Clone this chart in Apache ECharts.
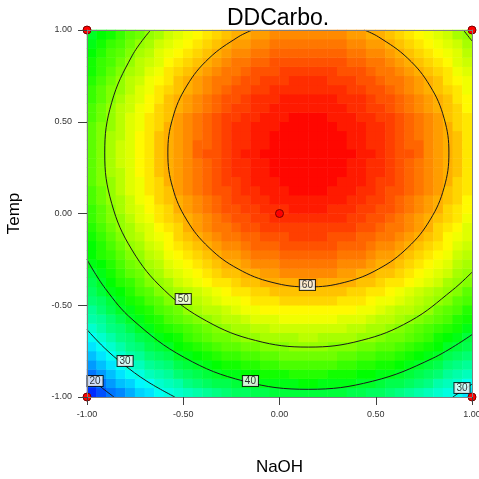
<!DOCTYPE html>
<html><head><meta charset="utf-8">
<script src="https://cdn.jsdelivr.net/npm/echarts@6/dist/echarts.min.js"></script>
<style>html,body{margin:0;padding:0;background:#fff}#c{width:479px;height:479px}</style>
</head><body><div id="c"></div>
<script>
const chartTitle = 'DDCarbo.';
const xAxisName = 'NaOH';
const yAxisName = 'Temp';
const axisTickValues = [-1, -0.5, 0, 0.5, 1];
const axisTickLabels = ['-1.00', '-0.50', '0.00', '0.50', '1.00'];
const cellCenters = [-0.975,-0.925,-0.875,-0.825,-0.775,-0.725,-0.675,-0.625,-0.575,-0.525,-0.475,-0.425,-0.375,-0.325,-0.275,-0.225,-0.175,-0.125,-0.075,-0.025,0.025,0.075,0.125,0.175,0.225,0.275,0.325,0.375,0.425,0.475,0.525,0.575,0.625,0.675,0.725,0.775,0.825,0.875,0.925,0.975];
// response values per cell, rows from Temp=-1 (bottom) to Temp=+1 (top), columns NaOH -1 -> +1
const carboRowsBottomToTop = [
[17,19,21,22,24,26,27,29,30,31,32,33,34,35,36,37,37,38,38,39,39,39,39,39,39,39,39,38,38,37,37,36,35,34,33,32,31,30,29,27],
[19,21,23,25,26,28,29,31,32,33,35,36,37,38,38,39,40,40,41,41,41,41,42,42,41,41,41,41,40,40,39,38,38,37,36,35,33,32,31,29],
[21,23,25,27,29,30,32,33,34,36,37,38,39,40,41,41,42,42,43,43,43,44,44,44,44,43,43,43,42,42,41,41,40,39,38,37,36,34,33,32],
[23,25,27,29,31,32,34,35,36,38,39,40,41,42,43,43,44,44,45,45,46,46,46,46,46,46,45,45,44,44,43,43,42,41,40,39,38,36,35,34],
[25,27,29,31,33,34,36,37,38,40,41,42,43,44,45,45,46,46,47,47,48,48,48,48,48,48,47,47,46,46,45,45,44,43,42,41,40,38,37,36],
[27,29,31,33,35,36,38,39,40,42,43,44,45,46,47,47,48,48,49,49,49,50,50,50,50,49,49,49,48,48,47,47,46,45,44,43,42,40,39,38],
[29,31,33,35,36,38,39,41,42,43,45,46,47,48,48,49,50,50,51,51,51,51,52,52,51,51,51,51,50,50,49,48,48,47,46,45,43,42,41,39],
[31,33,35,36,38,40,41,43,44,45,46,47,48,49,50,51,51,52,52,53,53,53,53,53,53,53,53,52,52,51,51,50,49,48,47,46,45,44,43,41],
[33,34,36,38,40,41,43,44,46,47,48,49,50,51,52,52,53,54,54,54,55,55,55,55,55,55,54,54,54,53,52,52,51,50,49,48,47,46,44,43],
[34,36,38,40,41,43,44,46,47,48,50,51,52,52,53,54,55,55,56,56,56,56,56,56,56,56,56,56,55,55,54,53,52,52,51,50,48,47,46,44],
[36,37,39,41,43,44,46,47,49,50,51,52,53,54,55,55,56,57,57,57,58,58,58,58,58,58,57,57,57,56,55,55,54,53,52,51,50,49,47,46],
[37,39,41,42,44,46,47,49,50,51,52,53,54,55,56,57,57,58,58,59,59,59,59,59,59,59,59,58,58,57,57,56,55,54,53,52,51,50,49,47],
[38,40,42,44,45,47,49,50,51,53,54,55,56,57,57,58,59,59,60,60,60,60,61,61,60,60,60,60,59,59,58,57,57,56,55,54,53,51,50,49],
[39,41,43,45,47,48,50,51,53,54,55,56,57,58,59,59,60,60,61,61,62,62,62,62,62,62,61,61,60,60,59,59,58,57,56,55,54,53,51,50],
[41,42,44,46,48,49,51,52,54,55,56,57,58,59,60,60,61,62,62,62,63,63,63,63,63,63,62,62,62,61,60,60,59,58,57,56,55,54,52,51],
[42,44,45,47,49,50,52,53,55,56,57,58,59,60,61,61,62,63,63,63,64,64,64,64,64,64,63,63,63,62,61,61,60,59,58,57,56,55,53,52],
[42,44,46,48,50,51,53,54,56,57,58,59,60,61,62,62,63,64,64,64,65,65,65,65,65,65,64,64,64,63,62,62,61,60,59,58,57,56,54,53],
[43,45,47,49,51,52,54,55,56,58,59,60,61,62,63,63,64,64,65,65,65,66,66,66,66,65,65,65,64,64,63,63,62,61,60,59,58,56,55,54],
[44,46,48,50,51,53,54,56,57,58,60,61,62,63,63,64,65,65,66,66,66,66,66,66,66,66,66,66,65,65,64,63,63,62,61,60,58,57,56,54],
[45,47,49,50,52,54,55,57,58,59,60,61,62,63,64,65,65,66,66,67,67,67,67,67,67,67,67,66,66,65,65,64,63,62,61,60,59,58,57,55],
[45,47,49,51,53,54,56,57,58,60,61,62,63,64,65,65,66,66,67,67,67,68,68,68,68,67,67,67,66,66,65,65,64,63,62,61,60,58,57,56],
[46,48,50,51,53,55,56,58,59,60,61,62,63,64,65,66,66,67,67,68,68,68,68,68,68,68,68,67,67,66,66,65,64,63,62,61,60,59,58,56],
[46,48,50,52,54,55,57,58,59,61,62,63,64,65,65,66,67,67,68,68,68,69,69,69,69,68,68,68,67,67,66,65,65,64,63,62,61,59,58,57],
[47,49,50,52,54,55,57,58,60,61,62,63,64,65,66,66,67,68,68,68,69,69,69,69,69,69,68,68,68,67,66,66,65,64,63,62,61,60,58,57],
[47,49,51,52,54,56,57,59,60,61,62,63,64,65,66,67,67,68,68,69,69,69,69,69,69,69,69,68,68,67,67,66,65,64,63,62,61,60,59,57],
[47,49,51,53,54,56,57,59,60,61,62,63,64,65,66,67,67,68,68,69,69,69,69,69,69,69,69,68,68,67,67,66,65,64,63,62,61,60,59,57],
[47,49,51,53,54,56,57,59,60,61,62,64,65,65,66,67,68,68,69,69,69,69,69,69,69,69,69,69,68,68,67,66,65,65,64,62,61,60,59,57],
[47,49,51,53,54,56,57,59,60,61,62,64,64,65,66,67,67,68,68,69,69,69,69,69,69,69,69,68,68,67,67,66,65,64,64,62,61,60,59,57],
[47,49,51,52,54,56,57,59,60,61,62,63,64,65,66,67,67,68,68,69,69,69,69,69,69,69,69,68,68,67,67,66,65,64,63,62,61,60,59,57],
[47,49,50,52,54,55,57,58,60,61,62,63,64,65,66,67,67,68,68,68,69,69,69,69,69,69,68,68,68,67,67,66,65,64,63,62,61,60,58,57],
[46,48,50,52,54,55,57,58,59,61,62,63,64,65,66,66,67,67,68,68,68,69,69,69,69,68,68,68,67,67,66,66,65,64,63,62,61,59,58,57],
[46,48,50,52,53,55,56,58,59,60,61,62,63,64,65,66,66,67,67,68,68,68,68,68,68,68,68,67,67,66,66,65,64,63,62,61,60,59,58,56],
[45,47,49,51,53,54,56,57,59,60,61,62,63,64,65,65,66,67,67,67,68,68,68,68,68,68,67,67,67,66,65,65,64,63,62,61,60,59,57,56],
[45,47,49,50,52,54,55,57,58,59,60,61,62,63,64,65,65,66,66,67,67,67,67,67,67,67,67,66,66,65,65,64,63,62,61,60,59,58,57,55],
[44,46,48,50,52,53,55,56,57,59,60,61,62,63,63,64,65,65,66,66,66,67,67,67,67,66,66,66,65,65,64,63,63,62,61,60,59,57,56,55],
[43,45,47,49,51,52,54,55,57,58,59,60,61,62,63,63,64,65,65,65,66,66,66,66,66,66,65,65,65,64,63,63,62,61,60,59,58,57,55,54],
[43,45,46,48,50,52,53,54,56,57,58,59,60,61,62,63,63,64,64,65,65,65,65,65,65,65,65,64,64,63,63,62,61,60,59,58,57,56,54,53],
[42,44,46,47,49,51,52,54,55,56,57,58,59,60,61,62,62,63,63,64,64,64,64,64,64,64,64,63,63,62,62,61,60,59,58,57,56,55,54,52],
[41,43,45,46,48,50,51,53,54,55,56,57,58,59,60,61,61,62,62,63,63,63,63,63,63,63,63,62,62,61,61,60,59,58,57,56,55,54,53,51],
[40,42,43,45,47,48,50,51,53,54,55,56,57,58,59,60,60,61,61,62,62,62,62,62,62,62,62,61,61,60,60,59,58,57,56,55,54,53,51,50]
];
const colorScaleMin = 14.7;
const colorScaleMax = 69.4;
// contour lines, [NaOH, Temp]
const contour60 = [[-0.14,1.0],[-0.215,0.962],[-0.366,0.846],[-0.482,0.695],[-0.555,0.519],[-0.58,0.33],[-0.555,0.141],[-0.482,-0.035],[-0.366,-0.186],[-0.215,-0.302],[-0.039,-0.375],[0.15,-0.40],[0.339,-0.375],[0.515,-0.302],[0.666,-0.186],[0.782,-0.035],[0.855,0.141],[0.88,0.33],[0.855,0.519],[0.782,0.695],[0.666,0.846],[0.515,0.962],[0.44,1.0]];
const contour50 = [[-0.669,1.0],[-0.766,0.859],[-0.872,0.604],[-0.908,0.33],[-0.872,0.056],[-0.766,-0.199],[-0.598,-0.418],[-0.379,-0.586],[-0.124,-0.692],[0.15,-0.728],[0.424,-0.692],[0.679,-0.586],[0.898,-0.418],[1.0,-0.32]];
const contour50Corner = [[0.955,1.0],[1.0,0.94]];
const contour40 = [[-1.0,-0.251],[-0.905,-0.409],[-0.761,-0.581],[-0.494,-0.785],[-0.183,-0.914],[0.15,-0.958],[0.483,-0.914],[0.794,-0.79],[1.0,-0.66]];
const contour30Left = [[-1.0,-0.633],[-0.911,-0.731],[-0.814,-0.819],[-0.689,-0.914],[-0.544,-1.0]];
const contour30Right = [[0.90,-1.0],[0.95,-0.965],[1.0,-0.93]];
const contour20 = [[-1.0,-0.881],[-0.932,-0.942],[-0.86,-1.0]];
const contourLabels = [[0.145,-0.39,'60'],[-0.50,-0.466,'50'],[-0.151,-0.913,'40'],[-0.802,-0.804,'30'],[0.948,-0.951,'30'],[-0.958,-0.913,'20']];
const designPoints = [[-1,-1],[1,-1],[-1,1],[1,1],[0,0]];

const heatData = [];
carboRowsBottomToTop.forEach((row, j) => row.forEach((v, i) => heatData.push([i, j, v])));

const FONT = 'Liberation Sans';
const chart = echarts.init(document.getElementById('c'), null, {renderer: 'canvas'});
const tickFmt = v => { const k = axisTickValues.indexOf(v); return k >= 0 ? axisTickLabels[k] : v.toFixed(2); };
const valueAxisBase = {
  type: 'value', min: -1, max: 1, interval: 0.5, z: 10,
  splitLine: {show: false},
  axisLine: {show: true, onZero: false, lineStyle: {color: '#808080', width: 1}},
};
const contourLine = (data) => ({
  type: 'line', xAxisIndex: 1, yAxisIndex: 1, data, showSymbol: false, symbol: 'none',
  smooth: 0.4, silent: true, z: 4, animation: false,
  lineStyle: {color: '#1a1a1a', width: 1}
});

chart.setOption({
  animation: false,
  backgroundColor: '#ffffff',
  title: {text: chartTitle, left: 222, top: 2, textStyle: {fontFamily: FONT, fontSize: 23, fontWeight: 'normal', color: '#000'}},
  grid: {left: 87, right: 7, top: 30, bottom: 82, containLabel: false, outerBoundsMode: 'none'},
  visualMap: {type: 'continuous', show: false, seriesIndex: 0, dimension: 2, min: colorScaleMin, max: colorScaleMax,
    inRange: {color: ['#0000ff', '#00ffff', '#00ff00', '#ffff00', '#ff0000']}},
  xAxis: [
    {type: 'category', data: cellCenters.map(String), show: false, boundaryGap: true},
    Object.assign({}, valueAxisBase, {position: 'bottom',
      axisTick: {show: true, length: 8, lineStyle: {color: '#404040'}},
      axisLabel: {formatter: tickFmt, margin: 13, fontFamily: FONT, fontSize: 9, color: '#333'},
      name: xAxisName, nameLocation: 'middle', nameGap: 62,
      nameTextStyle: {fontFamily: FONT, fontSize: 17, color: '#000'}}),
    Object.assign({}, valueAxisBase, {position: 'top', axisTick: {show: false}, axisLabel: {show: false}})
  ],
  yAxis: [
    {type: 'category', data: cellCenters.map(String), show: false, boundaryGap: true},
    Object.assign({}, valueAxisBase, {position: 'left',
      axisTick: {show: true, length: 9, lineStyle: {color: '#404040'}},
      axisLabel: {formatter: tickFmt, margin: 15, fontFamily: FONT, fontSize: 9, color: '#333'},
      name: yAxisName, nameLocation: 'middle', nameGap: 64, nameRotate: 90,
      nameTextStyle: {fontFamily: FONT, fontSize: 17, color: '#000'}}),
    Object.assign({}, valueAxisBase, {position: 'right', axisTick: {show: false}, axisLabel: {show: false}})
  ],
  series: [
    {type: 'heatmap', xAxisIndex: 0, yAxisIndex: 0, data: heatData, silent: true, z: 1,
      emphasis: {disabled: true}, itemStyle: {borderWidth: 0}},
    contourLine(contour60),
    contourLine(contour50),
    contourLine(contour50Corner),
    contourLine(contour40),
    contourLine(contour30Left),
    contourLine(contour30Right),
    contourLine(contour20),
    {type: 'scatter', xAxisIndex: 1, yAxisIndex: 1, data: contourLabels, symbolSize: 1, silent: true, z: 6,
      itemStyle: {color: 'transparent'},
      label: {show: true, position: 'inside', formatter: p => p.data[2], fontFamily: FONT, fontSize: 10, lineHeight: 10,
        color: '#000', backgroundColor: '#fff', borderColor: '#000', borderWidth: 1, padding: [0, 2, 0, 2]}},
    {type: 'scatter', xAxisIndex: 1, yAxisIndex: 1, data: designPoints, symbolSize: 8, clip: false, silent: true, z: 8,
      itemStyle: {color: '#ff0000', borderColor: '#7a0000', borderWidth: 1, opacity: 1}}
  ]
});
</script>
</body></html>
